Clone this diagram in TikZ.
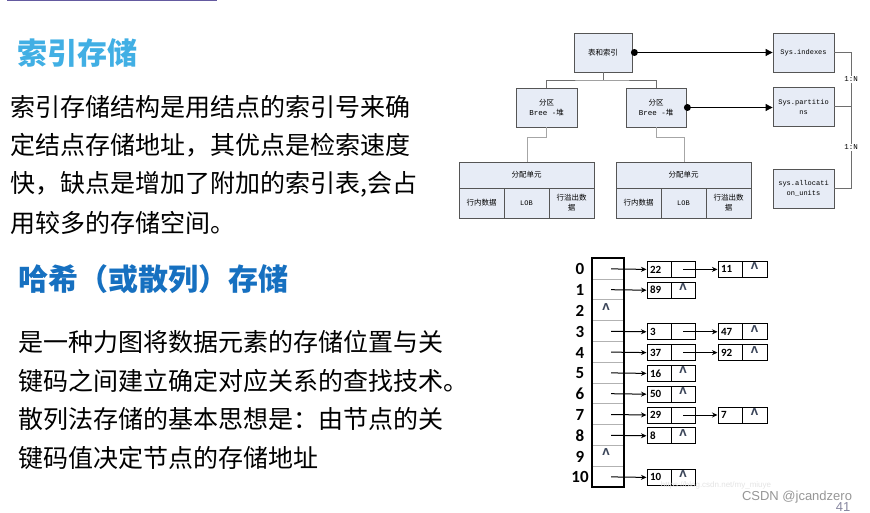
\documentclass[tikz,border=0pt]{standalone}
\usepackage{fontspec}
\setmainfont{Noto Sans CJK SC}
\newfontfamily\cjk{Noto Sans CJK SC}
\newfontfamily\monof{Liberation Mono}
\newfontfamily\numf{Carlito}
\newfontfamily\latf{Liberation Sans}
\newfontfamily\dejaf{DejaVu Sans}
\usetikzlibrary{arrows.meta}
\definecolor{boxfill}{RGB}{231,236,246}
\definecolor{boxdraw}{RGB}{85,85,85}
\definecolor{linegray}{RGB}{110,110,110}
\definecolor{titleA}{RGB}{65,175,228}
\definecolor{titleB}{RGB}{22,112,192}
\definecolor{topline}{RGB}{100,90,160}
\definecolor{wmgray}{RGB}{150,150,150}
\definecolor{lamcol}{RGB}{60,70,90}
\begin{document}
\begin{tikzpicture}[x=1pt,y=-1pt,
  dbox/.style={draw=boxdraw,fill=boxfill,line width=0.8pt,inner sep=1pt,align=center,
    font=\cjk\fontsize{7.5}{10}\selectfont},
  conn/.style={draw=linegray,line width=0.8pt},
  tarrow/.style={draw=black,line width=0.8pt,-{Triangle[length=7pt,width=7pt]}},
  para/.style={anchor=west,inner sep=0pt,font=\cjk\fontsize{25}{30}\selectfont},
  ttl/.style={anchor=west,inner sep=0pt,font=\cjk\bfseries\fontsize{30}{36}\selectfont},
  tcell/.style={draw=gray!60,line width=0.5pt,minimum width=32pt,minimum height=20.8pt,inner sep=0pt},
  rowlbl/.style={inner sep=0pt,font=\numf\bfseries\fontsize{17}{20}\selectfont},
  vcell/.style={draw=black,line width=1pt,minimum width=24pt,minimum height=16pt,inner xsep=3pt,inner ysep=0pt,
    text width=18pt,align=left,font=\numf\bfseries\fontsize{11}{13}\selectfont},
  pcell/.style={draw=black,line width=1pt,minimum width=24pt,minimum height=16pt,inner sep=0pt},
  lam/.style={inner sep=0pt,text=lamcol,font=\dejaf\bfseries\fontsize{9.5}{11}\selectfont},
  ptr/.style={draw=black,line width=1pt,-{Stealth[length=5.5pt,width=5pt]}},
]
\useasboundingbox (0,0) rectangle (870,513);
% top line
\draw[topline,line width=1.5pt] (7,0.5) -- (217,0.5);

% ---------- left texts ----------
\node[ttl,text=titleA] (t1) at (17,53) {索引存储};
\node[para] (p1a) at (10,107) {索引存储结构是用结点的索引号来确};
\node[para] (p1b) at (10,145.5) {定结点存储地址，其优点是检索速度};
\node[para] (p1c) at (10,184.5) {快，缺点是增加了附加的索引表,会占};
\node[para] (p1d) at (10,223) {用较多的存储空间。};

\node[ttl,text=titleB] (t2) at (18,279) {哈希（或散列）存储};
\node[para] (p2a) at (18,342) {是一种力图将数据元素的存储位置与关};
\node[para] (p2b) at (18,380.5) {键码之间建立确定对应关系的查找技术。};
\node[para] (p2c) at (18,419.5) {散列法存储的基本思想是：由节点的关};
\node[para] (p2d) at (18,458) {键码值决定节点的存储地址};

% ---------- index storage diagram ----------
\node[dbox,minimum width=58pt,minimum height=39pt] (tbl) at (603,52.5) {表和索引};
\node[dbox,minimum width=61pt,minimum height=39pt,font=\monof\fontsize{7}{9}\selectfont] (sysidx) at (803.5,52.5) {Sys.indexes};
\node[dbox,minimum width=61pt,minimum height=39pt] (pl) at (546.5,107.5) {分区\\{\monof Bree -}堆};
\node[dbox,minimum width=60pt,minimum height=39pt] (pr) at (656,107.5) {分区\\{\monof Bree -}堆};
\node[dbox,minimum width=61pt,minimum height=39pt,font=\monof\fontsize{7}{10}\selectfont] (syspart) at (803.5,106.5) {Sys.partitio\\ns};
\node[dbox,minimum width=61pt,minimum height=39pt,font=\monof\fontsize{7}{10}\selectfont] (sysalloc) at (803.5,188.5) {sys.allocati\\on\_units};

\node[dbox,minimum width=135pt,minimum height=26pt] (alt) at (526.5,175) {分配单元};
\node[dbox,minimum width=45pt,minimum height=30pt] (al1) at (481.5,203) {行内数据};
\node[dbox,minimum width=45pt,minimum height=30pt,font=\monof\fontsize{7}{9}\selectfont] (al2) at (526.5,203) {LOB};
\node[dbox,minimum width=45pt,minimum height=30pt] (al3) at (571.5,203) {行溢出数\\据};

\node[dbox,minimum width=135pt,minimum height=26pt] (art) at (683.5,175) {分配单元};
\node[dbox,minimum width=45pt,minimum height=30pt] (ar1) at (638.5,203) {行内数据};
\node[dbox,minimum width=45pt,minimum height=30pt,font=\monof\fontsize{7}{9}\selectfont] (ar2) at (683.5,203) {LOB};
\node[dbox,minimum width=45pt,minimum height=30pt] (ar3) at (728.5,203) {行溢出数\\据};

% tree connectors
\coordinate (tj) at (603,80);
\draw[conn] (tbl.south) -- (tj);
\draw[conn] (pl.north) |- (tj) -| (pr.north);
\coordinate (lj) at (527,138);
\coordinate (rj) at (684,138);
\draw[conn,draw=gray!70,line width=1pt] (pl.south) |- (lj) -- (alt.north -| lj);
\draw[conn,draw=gray!70,line width=1pt] ([xshift=0.5pt]pr.south) |- (rj) -- (art.north -| rj);

% dot arrows
\fill ([xshift=2pt]tbl.east) circle (3.5pt);
\draw[tarrow] ([xshift=2pt]tbl.east) -- (sysidx.west);
\fill ([xshift=1pt]pr.east) circle (3.5pt);
\draw[tarrow] ([xshift=1pt]pr.east) -- (syspart.west |- pr.east);

% 1:N connectors
\coordinate (rx) at (851,0);
\draw[conn] (sysidx.east) -- (sysidx.east -| rx) -- node[fill=white,inner sep=1pt,font=\monof\fontsize{7.5}{8}\selectfont]{1:N} (syspart.east -| rx) -- (syspart.east);
\draw[conn] (syspart.east -| rx) -- node[fill=white,inner sep=1pt,font=\monof\fontsize{7.5}{8}\selectfont]{1:N} (sysalloc.east -| rx) -- (sysalloc.east);

% ---------- hash table ----------
\foreach \i in {0,...,10} {
  \node[tcell] (t\i) at (608,{268.4+20.8*\i}) {};
  \node[rowlbl] (n\i) at (580,{269.4+20.8*\i}) {\i};
}
\draw[line width=1.6pt] (t0.north west) rectangle (t10.south east);
\node[lam] (lam2) at (606,{265+20.8*2}) {Λ};
\node[lam] (lam9) at (606,{265+20.8*9}) {Λ};

\foreach \r/\v in {0/22,1/89,3/3,4/37,5/16,6/50,7/29,8/8,10/10} {
  \node[vcell] (k\r) at (659,{269.4+20.8*\r}) {\v};
  \draw[ptr] ([xshift=3pt,yshift=-0.5pt]t\r.center) -- (k\r.west);
}
\foreach \r in {1,5,6,8,10} {
  \node[pcell] (p\r) at (683,{269.4+20.8*\r}) {};
  \node[lam] (m\r) at (683,{266.5+20.8*\r}) {Λ};
}
\foreach \r/\v in {0/11,3/47,4/92,7/7} {
  \node[pcell] (p\r) at (683,{269.4+20.8*\r}) {};
  \node[vcell] (q\r) at (730,{269.4+20.8*\r}) {\v};
  \node[pcell,minimum width=25pt] (s\r) at (754.5,{269.4+20.8*\r}) {};
  \node[lam] (ms\r) at (754.5,{266.5+20.8*\r}) {Λ};
  \draw[ptr] (p\r.center) -- (q\r.west);
}

% watermark texts
\node[inner sep=0pt,text=gray!22,font=\latf\fontsize{8}{9}\selectfont] (url) at (716,485) {https://blog.csdn.net/my\_miuye};
\node[inner sep=0pt,text=wmgray,font=\latf\fontsize{13}{14}\selectfont] (csdn) at (797,497) {CSDN @jcandzero};
\node[inner sep=0pt,text=wmgray!90!blue,font=\latf\fontsize{13}{14}\selectfont] (pg) at (843,507.5) {41};
\end{tikzpicture}
\end{document}
